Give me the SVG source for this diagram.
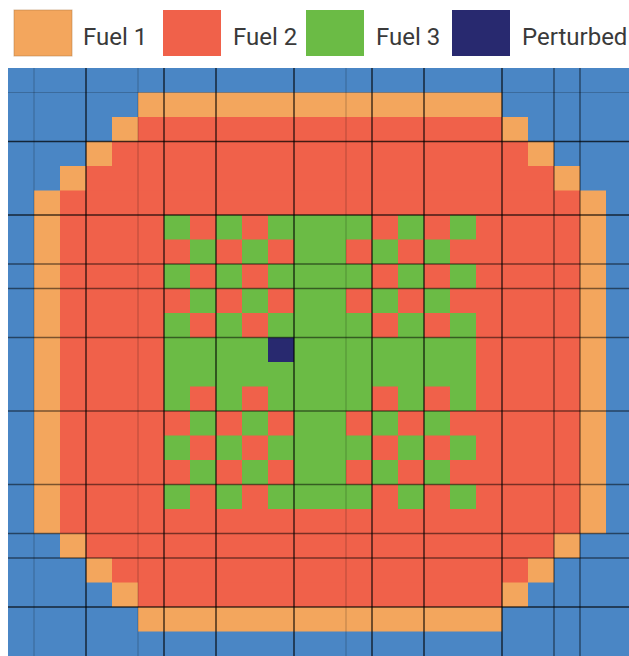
<svg xmlns="http://www.w3.org/2000/svg" xmlns:xlink="http://www.w3.org/1999/xlink" width="629" height="656" viewBox="0 0 629 656">
<style>
.bl{fill:#4a86c5}
.or{fill:#f3a65d}
.rd{fill:#f0614a}
.gr{fill:#6bbb45}
.nv{fill:#28296f}
.lg text{font-family:Roboto,"Liberation Sans",sans-serif;font-size:24px;fill:#3a3a3a}
.dk{stroke:#000;stroke-opacity:.72;stroke-width:1.5}
.md{stroke:#000;stroke-opacity:.5;stroke-width:1.4}
.lt{stroke:#000;stroke-opacity:.2;stroke-width:1.2}
</style>
<defs>
<rect id="c" width="26" height="24.5" class="rd"/>
</defs>
<rect width="629" height="656" fill="#fff"/>
<g id="legend" class="lg">
<g id="leg-fuel1"><rect x="14" y="10" width="58" height="46" class="or" stroke="#b07a40" stroke-opacity=".5"/><text x="83" y="45">Fuel 1</text></g>
<g id="leg-fuel2"><rect x="163" y="10" width="58" height="46" class="rd"/><text x="233" y="45">Fuel 2</text></g>
<g id="leg-fuel3"><rect x="306" y="10" width="58" height="46" class="gr"/><text x="376" y="45">Fuel 3</text></g>
<g id="leg-pert"><rect x="452" y="10" width="58" height="46" class="nv"/><text x="522" y="45">Perturbed</text></g>
</g>
<g id="core">
<rect x="8" y="68" width="624" height="588" class="bl"/>
<g id="fuel1">
<rect x="138" y="92.5" width="364" height="539" class="or"/>
<rect x="112" y="117" width="416" height="490" class="or"/>
<rect x="86" y="141.5" width="468" height="441" class="or"/>
<rect x="60" y="166" width="520" height="392" class="or"/>
<rect x="34" y="190.5" width="572" height="343" class="or"/>
</g>
<g id="fuel2">
<rect x="138" y="117" width="364" height="490" class="rd"/>
<rect x="112" y="141.5" width="416" height="441" class="rd"/>
<rect x="86" y="166" width="468" height="392" class="rd"/>
<rect x="60" y="190.5" width="520" height="343" class="rd"/>
</g>
<g id="fuel3">
<rect x="164" y="215" width="312" height="294" class="gr"/>
</g>
<g id="checker">
<use xlink:href="#c" x="190" y="215"/><use xlink:href="#c" x="242" y="215"/>
<use xlink:href="#c" x="164" y="239.5"/><use xlink:href="#c" x="216" y="239.5"/><use xlink:href="#c" x="268" y="239.5"/>
<use xlink:href="#c" x="190" y="264"/><use xlink:href="#c" x="242" y="264"/>
<use xlink:href="#c" x="164" y="288.5"/><use xlink:href="#c" x="216" y="288.5"/><use xlink:href="#c" x="268" y="288.5"/>
<use xlink:href="#c" x="190" y="313"/><use xlink:href="#c" x="242" y="313"/>
<use xlink:href="#c" x="190" y="386.5"/><use xlink:href="#c" x="242" y="386.5"/>
<use xlink:href="#c" x="164" y="411"/><use xlink:href="#c" x="216" y="411"/><use xlink:href="#c" x="268" y="411"/>
<use xlink:href="#c" x="190" y="435.5"/><use xlink:href="#c" x="242" y="435.5"/>
<use xlink:href="#c" x="164" y="460"/><use xlink:href="#c" x="216" y="460"/><use xlink:href="#c" x="268" y="460"/>
<use xlink:href="#c" x="190" y="484.5"/><use xlink:href="#c" x="242" y="484.5"/>
<use xlink:href="#c" x="372" y="215"/><use xlink:href="#c" x="424" y="215"/>
<use xlink:href="#c" x="346" y="239.5"/><use xlink:href="#c" x="398" y="239.5"/><use xlink:href="#c" x="450" y="239.5"/>
<use xlink:href="#c" x="372" y="264"/><use xlink:href="#c" x="424" y="264"/>
<use xlink:href="#c" x="346" y="288.5"/><use xlink:href="#c" x="398" y="288.5"/><use xlink:href="#c" x="450" y="288.5"/>
<use xlink:href="#c" x="372" y="313"/><use xlink:href="#c" x="424" y="313"/>
<use xlink:href="#c" x="372" y="386.5"/><use xlink:href="#c" x="424" y="386.5"/>
<use xlink:href="#c" x="346" y="411"/><use xlink:href="#c" x="398" y="411"/><use xlink:href="#c" x="450" y="411"/>
<use xlink:href="#c" x="372" y="435.5"/><use xlink:href="#c" x="424" y="435.5"/>
<use xlink:href="#c" x="346" y="460"/><use xlink:href="#c" x="398" y="460"/><use xlink:href="#c" x="450" y="460"/>
<use xlink:href="#c" x="372" y="484.5"/><use xlink:href="#c" x="424" y="484.5"/>
</g>
<g id="perturbed">
<rect x="268" y="337.5" width="26" height="24.5" class="nv"/>
</g>
<g id="gridlines">
<line x1="34" y1="68" x2="34" y2="656" class="lt"/>
<line x1="86" y1="68" x2="86" y2="656" class="dk"/>
<line x1="138" y1="68" x2="138" y2="656" class="lt"/>
<line x1="164" y1="68" x2="164" y2="656" class="dk"/>
<line x1="216" y1="68" x2="216" y2="656" class="dk"/>
<line x1="294" y1="68" x2="294" y2="656" class="dk"/>
<line x1="346" y1="68" x2="346" y2="656" class="lt"/>
<line x1="372" y1="68" x2="372" y2="656" class="dk"/>
<line x1="424" y1="68" x2="424" y2="656" class="dk"/>
<line x1="502" y1="68" x2="502" y2="656" class="dk"/>
<line x1="554" y1="68" x2="554" y2="656" class="md"/>
<line x1="580" y1="68" x2="580" y2="656" class="md"/>
<line x1="8" y1="92.5" x2="629" y2="92.5" class="lt"/>
<line x1="8" y1="141.5" x2="629" y2="141.5" class="dk"/>
<line x1="8" y1="215" x2="629" y2="215" class="dk"/>
<line x1="8" y1="264" x2="629" y2="264" class="md"/>
<line x1="8" y1="288.5" x2="629" y2="288.5" class="md"/>
<line x1="8" y1="337.5" x2="629" y2="337.5" class="md"/>
<line x1="8" y1="411" x2="629" y2="411" class="md"/>
<line x1="8" y1="484.5" x2="629" y2="484.5" class="md"/>
<line x1="8" y1="533.5" x2="629" y2="533.5" class="md"/>
<line x1="8" y1="558" x2="629" y2="558" class="md"/>
<line x1="8" y1="607" x2="629" y2="607" class="dk"/>
</g>
</g>
</svg>
